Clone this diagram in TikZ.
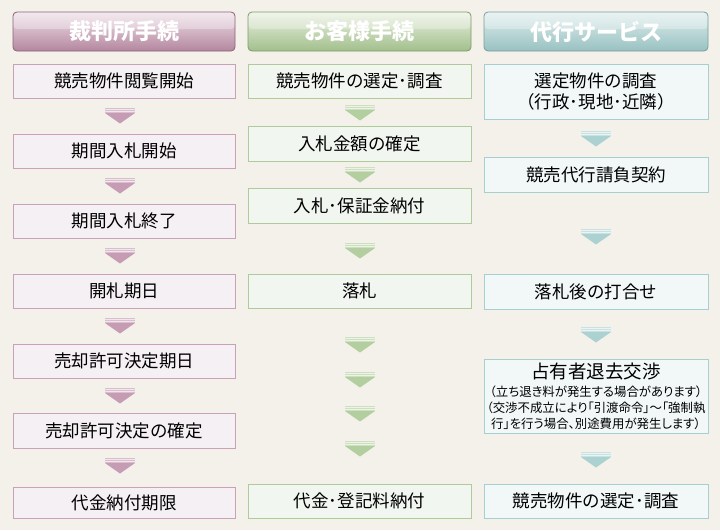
\documentclass[tikz,border=0pt]{standalone}
\usepackage{fontspec}
\setmainfont{Noto Sans CJK JP}
\newfontfamily\notecjk[RawFeature=+palt]{Noto Sans CJK JP}
\definecolor{bgcol}{HTML}{F3F1EA}
\definecolor{pkTop}{HTML}{EFE0E8}
\definecolor{pkBot}{HTML}{B4879F}
\definecolor{pkLine}{HTML}{8A6278}
\definecolor{pkFill}{HTML}{F5F0F3}
\definecolor{pkBox}{HTML}{C9A1B9}
\definecolor{pkArr}{HTML}{C59CB4}
\definecolor{gnTop}{HTML}{EAF1E1}
\definecolor{gnBot}{HTML}{A2BF8C}
\definecolor{gnLine}{HTML}{7E9B6A}
\definecolor{gnFill}{HTML}{F2F6F0}
\definecolor{gnBox}{HTML}{AFCB9A}
\definecolor{gnArr}{HTML}{B3CE9F}
\definecolor{tlTop}{HTML}{E1EEEE}
\definecolor{tlBot}{HTML}{98C1C1}
\definecolor{tlLine}{HTML}{779F9F}
\definecolor{tlFill}{HTML}{F2F8F8}
\definecolor{tlBox}{HTML}{A8CFCF}
\definecolor{tlArr}{HTML}{ACD1D1}
\newcommand\flowarr[3]{%
  \fill[#3!65!white] (#1-15,#2) rectangle (#1+15,#2+4.6);
  \fill[white!75!#3] (#1-15,#2+1.2) rectangle (#1+15,#2+2);
  \fill[white!75!#3] (#1-15,#2+3) rectangle (#1+15,#2+3.8);
  \fill[#3] (#1-15,#2+5) -- (#1+15,#2+5) -- (#1,#2+15.5) -- cycle;
}
\tikzset{
  hdrbase/.style={rounded corners=4pt, line width=0.8pt, inner sep=0pt,
    minimum height=39pt, text=white,
    font=\fontsize{22}{25}\selectfont\bfseries,
    path picture={\fill[white,opacity=0.3] (path picture bounding box.north west) rectangle ([yshift=-17pt]path picture bounding box.north east);}},
  hdrpk/.style={hdrbase, draw=pkLine, top color=pkTop, bottom color=pkBot, minimum width=222pt},
  hdrgn/.style={hdrbase, draw=gnLine, top color=gnTop, bottom color=gnBot, minimum width=223pt},
  hdrtl/.style={hdrbase, draw=tlLine, top color=tlTop, bottom color=tlBot, minimum width=224pt},
  boxbase/.style={line width=0.9pt, inner sep=0pt, align=center,
    font=\fontsize{17.5}{21}\selectfont},
  boxpk/.style={boxbase, draw=pkBox, fill=pkFill, minimum width=222pt},
  boxgn/.style={boxbase, draw=gnBox, fill=gnFill, minimum width=223pt},
  boxtl/.style={boxbase, draw=tlBox, fill=tlFill, minimum width=224pt},
}
\begin{document}
\begin{tikzpicture}[x=1pt,y=-1pt]
\useasboundingbox (0,0) rectangle (720,530);
\fill[bgcol] (0,0) rectangle (720,530);
% headers
\node[hdrpk] (h1) at (124,31.5) {裁判所手続};
\node[hdrgn] (h2) at (359.5,31.5) {お客様手続};
\node[hdrtl] (h3) at (596,31.5) {代行サービス};
% column 1
\node[boxpk, minimum height=34pt] (a1) at (124,81) {競売物件閲覧開始};
\node[boxpk, minimum height=34pt] (a2) at (124,151) {期間入札開始};
\node[boxpk, minimum height=34pt] (a3) at (124,221) {期間入札終了};
\node[boxpk, minimum height=34pt] (a4) at (124,291) {開札期日};
\node[boxpk, minimum height=34pt] (a5) at (124,361) {売却許可決定期日};
\node[boxpk, minimum height=35pt] (a6) at (124,430.5) {売却許可決定の確定};
\node[boxpk, minimum height=31pt] (a7) at (124,503) {代金納付期限};
\flowarr{120}{108}{pkArr}
\flowarr{120}{178}{pkArr}
\flowarr{120}{248}{pkArr}
\flowarr{120}{318}{pkArr}
\flowarr{120}{388}{pkArr}
\flowarr{120}{458}{pkArr}
% column 2
\node[boxgn, minimum height=34pt] (b1) at (359.5,81) {競売物件の選定･調査};
\node[boxgn, minimum height=35pt] (b2) at (359.5,143.5) {入札金額の確定};
\node[boxgn, minimum height=35pt] (b3) at (359.5,205.5) {入札･保証金納付};
\node[boxgn, minimum height=34pt] (b4) at (359.5,291) {落札};
\node[boxgn, minimum height=34pt] (b5) at (359.5,501) {代金･登記料納付};
\flowarr{360}{105}{gnArr}
\flowarr{360}{167}{gnArr}
\flowarr{360}{243}{gnArr}
\flowarr{360}{337}{gnArr}
\flowarr{360}{372}{gnArr}
\flowarr{360}{406}{gnArr}
\flowarr{360}{441}{gnArr}
% column 3
\node[boxtl, minimum height=55pt] (c1) at (596,91.5) {選定物件の調査\\（行政･現地･近隣）};
\node[boxtl, minimum height=35pt] (c2) at (596,174.5) {競売代行請負契約};
\node[boxtl, minimum height=35pt] (c3) at (596,291.5) {落札後の打合せ};
\node[boxtl, minimum height=74pt, text width=222pt] (c4) at (596,396) {{\fontsize{18.5}{21}\selectfont 占有者退去交渉}\\[-3pt]
  {\notecjk\fontsize{12.4}{15}\selectfont （立ち退き料が発生する場合があります）}\\[-5pt]
  {\notecjk\fontsize{12.4}{15}\selectfont （交渉不成立により「引渡命令」～「強制執}\\[-5pt]
  {\notecjk\fontsize{12.4}{15}\selectfont 行」を行う場合、別途費用が発生します）}};
\node[boxtl, minimum height=34pt] (c5) at (596,501) {競売物件の選定･調査};
\flowarr{596}{131}{tlArr}
\flowarr{596}{229}{tlArr}
\flowarr{596}{327}{tlArr}
\flowarr{596}{452}{tlArr}
\end{tikzpicture}
\end{document}
